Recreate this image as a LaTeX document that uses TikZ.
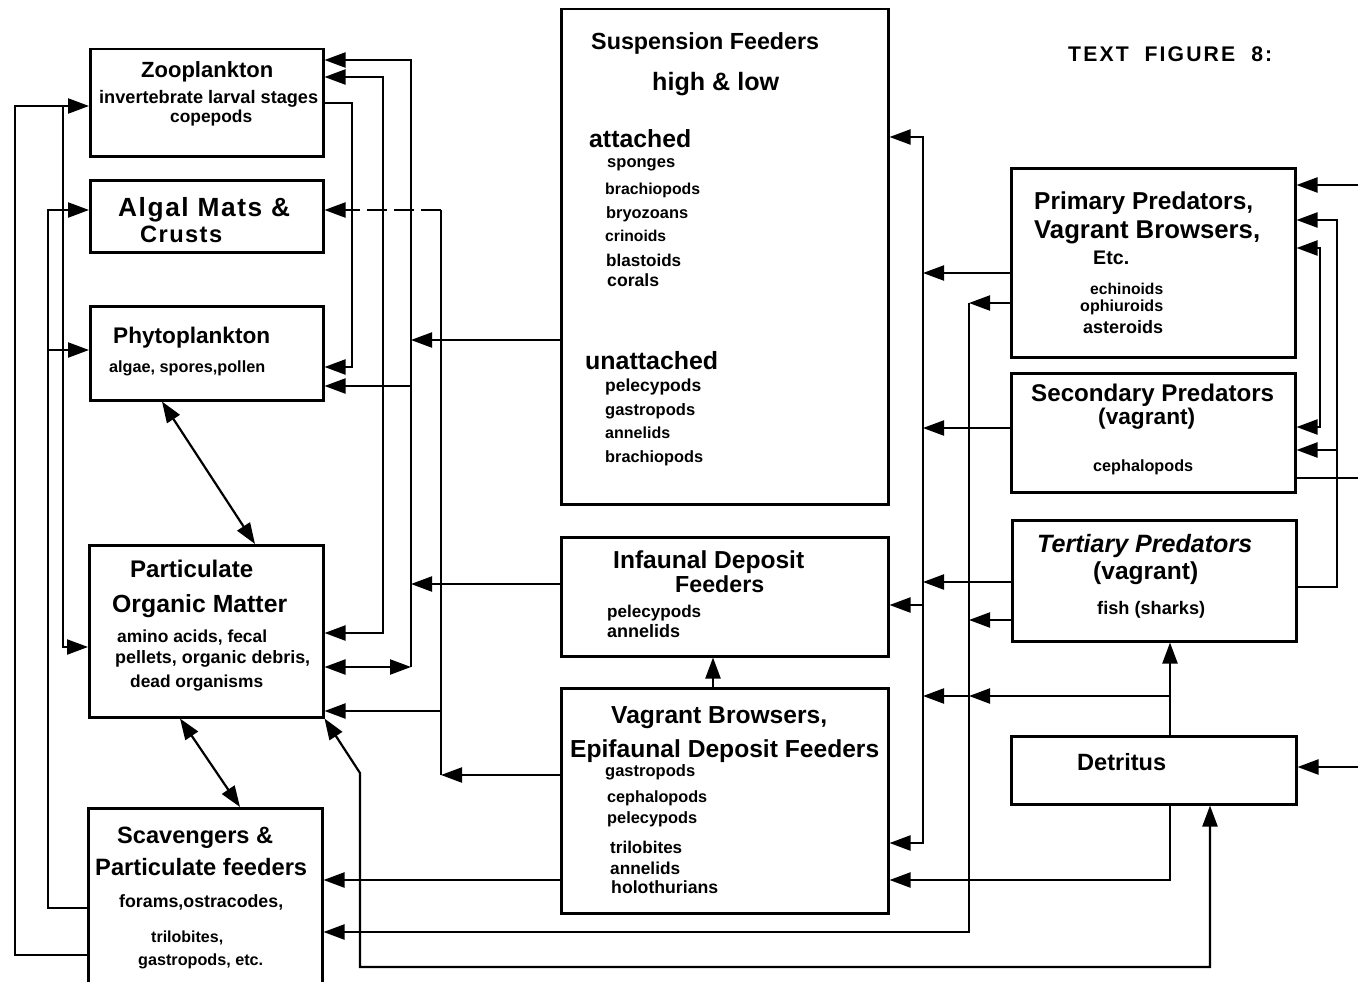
\documentclass[tikz,border=0pt]{standalone}
\usepackage{fontspec}
\setmainfont{Liberation Sans}
\usepackage{graphicx}
\usetikzlibrary{arrows.meta}
\newcommand\tl[5]{\node[txt] (#1) at (#2,#3) {\resizebox{#4pt}{!}{#5}};}
\tikzset{
  box/.style={draw, line width=2.5pt, rectangle, inner sep=0pt, anchor=north west},
  con/.style={line width=2.2pt},
  tip/.tip={Triangle[length=21pt,width=15pt]},
  arr/.style={con, -tip},
  darr/.style={con, tip-tip},
  txt/.style={inner sep=0pt, anchor=base west, font=\bfseries},
}
\begin{document}
\begin{tikzpicture}[x=1pt,y=-1pt]
\useasboundingbox (0,0) rectangle (1358,982);
\clip (0,0) rectangle (1358,982);
% ---------- boxes ----------
\node[box, minimum width=233pt, minimum height=107pt] (zoo) at (89,48) {};
\node[box, minimum width=233pt, minimum height=72pt] (alg) at (89,179) {};
\node[box, minimum width=233pt, minimum height=94pt] (phy) at (89,305) {};
\node[box, minimum width=234pt, minimum height=172pt] (pom) at (88,544) {};
\node[box, minimum width=234pt, minimum height=185pt] (scav) at (87,807) {};
\node[box, minimum width=327pt, minimum height=495pt] (susp) at (560,8) {};
\node[box, minimum width=327pt, minimum height=119pt] (inf) at (560,536) {};
\node[box, minimum width=327pt, minimum height=225pt] (vag) at (560,687) {};
\node[box, minimum width=284pt, minimum height=189pt] (pri) at (1010,167) {};
\node[box, minimum width=284pt, minimum height=119pt] (sec) at (1010,372) {};
\node[box, minimum width=284pt, minimum height=121pt] (ter) at (1011,519) {};
\node[box, minimum width=285pt, minimum height=68pt] (det) at (1010,735) {};
% ---------- texts ----------
\tl{tf}{1068}{62}{204}{\addfontfeature{LetterSpace=10}TEXT\ \ FIGURE\ \ 8:}
\tl{zt1}{141}{78}{132}{Zooplankton}
\tl{zt2}{99}{103}{219}{invertebrate larval stages}
\tl{zt3}{170}{122}{82}{copepods}
\tl{at1}{118}{216}{172}{\addfontfeature{LetterSpace=6}Algal\ Mats\ \&}
\tl{at2}{140}{242}{82}{\addfontfeature{LetterSpace=6}Crusts}
\tl{pt1}{113}{343}{157}{Phytoplankton}
\tl{pt2}{109}{372}{156}{algae, spores,pollen}
\tl{pm1}{130}{577}{123}{Particulate}
\tl{pm2}{112}{612}{175}{Organic Matter}
\tl{pm3}{117}{642}{150}{amino acids, fecal}
\tl{pm4}{115}{663}{195}{pellets, organic debris,}
\tl{pm5}{130}{687}{133}{dead organisms}
\tl{sc1}{117}{843}{156}{Scavengers \&}
\tl{sc2}{95}{875}{212}{Particulate feeders}
\tl{sc3}{119}{907}{164}{forams,ostracodes,}
\tl{sc4}{151}{942}{72}{trilobites,}
\tl{sc5}{138}{965}{125}{gastropods, etc.}
\tl{su1}{591}{49}{228}{Suspension Feeders}
\tl{su2}{652}{90}{127}{high \& low}
\tl{su3}{589}{147}{102}{attached}
\tl{su4}{607}{167}{68}{sponges}
\tl{su5}{605}{194}{95}{brachiopods}
\tl{su6}{606}{218}{82}{bryozoans}
\tl{su7}{605}{241}{61}{crinoids}
\tl{su8}{606}{266}{75}{blastoids}
\tl{su9}{607}{286}{52}{corals}
\tl{su10}{585}{369}{133}{unattached}
\tl{su11}{605}{391}{96}{pelecypods}
\tl{su12}{605}{415}{90}{gastropods}
\tl{su13}{605}{438}{65}{annelids}
\tl{su14}{605}{462}{98}{brachiopods}
\tl{in1}{613}{568}{191}{Infaunal Deposit}
\tl{in2}{675}{592}{89}{Feeders}
\tl{in3}{607}{617}{94}{pelecypods}
\tl{in4}{607}{637}{73}{annelids}
\tl{vg1}{611}{723}{216}{Vagrant Browsers,}
\tl{vg2}{570}{757}{309}{Epifaunal Deposit Feeders}
\tl{vg3}{605}{776}{90}{gastropods}
\tl{vg4}{607}{802}{100}{cephalopods}
\tl{vg5}{607}{823}{90}{pelecypods}
\tl{vg6}{610}{853}{72}{trilobites}
\tl{vg7}{610}{874}{70}{annelids}
\tl{vg8}{611}{893}{107}{holothurians}
\tl{pr1}{1034}{209}{219}{Primary Predators,}
\tl{pr2}{1034}{238}{226}{Vagrant Browsers,}
\tl{pr3}{1093}{264}{36}{Etc.}
\tl{pr4}{1090}{294}{73}{echinoids}
\tl{pr5}{1080}{311}{83}{ophiuroids}
\tl{pr6}{1083}{333}{80}{asteroids}
\tl{se1}{1031}{401}{243}{Secondary Predators}
\tl{se2}{1098}{424}{97}{(vagrant)}
\tl{se3}{1093}{471}{100}{cephalopods}
\tl{te1}{1037}{552}{215}{\itshape Tertiary Predators}
\tl{te2}{1093}{579}{105}{(vagrant)}
\tl{te3}{1097}{614}{108}{fish (sharks)}
\tl{de1}{1077}{770}{89}{Detritus}
% ---------- junction coordinates ----------
\coordinate (l15t) at (15,106);  \coordinate (l15b) at (15,955);
\coordinate (l63t) at (63,106);  \coordinate (l63b) at (63,647);
\coordinate (l48t) at (48,210);  \coordinate (l48m) at (48,350); \coordinate (l48b) at (48,908);
\coordinate (c352t) at (352,103); \coordinate (c352b) at (352,367);
\coordinate (c383t) at (383,77);  \coordinate (c383b) at (383,633);
\coordinate (c411t) at (411,60);  \coordinate (c411s) at (411,340); \coordinate (c411p) at (411,386);
\coordinate (c411i) at (411,584); \coordinate (c411b) at (411,667);
\coordinate (c441t) at (441,210); \coordinate (c441p) at (441,711); \coordinate (c441b) at (441,775);
\coordinate (c360a) at (360,773); \coordinate (c360b) at (360,967); \coordinate (c1210) at (1210,967);
\coordinate (c969t) at (969,303); \coordinate (c969r) at (969,620); \coordinate (c969d) at (969,696); \coordinate (c969b) at (969,932);
\coordinate (c923t) at (923,137); \coordinate (c923p) at (923,273); \coordinate (c923s) at (923,428);
\coordinate (c923r) at (923,582); \coordinate (c923i) at (923,605); \coordinate (c923d) at (923,696); \coordinate (c923b) at (923,843);
\coordinate (c1170d) at (1170,696); \coordinate (c1170b) at (1170,880);
\coordinate (c1337t) at (1337,220); \coordinate (c1337s) at (1337,450); \coordinate (c1337b) at (1337,587);
\coordinate (c1320t) at (1320,248); \coordinate (c1320b) at (1320,427);
\coordinate (r185) at (1360,185); \coordinate (r478) at (1360,478); \coordinate (r767) at (1360,767);
\coordinate (c713) at (713,670);
% ---------- left loops ----------
\draw[arr] (scav.west |- l15b) -- (l15b) -- (l15t) -- (zoo.west |- l15t);
\draw[arr] (l63t) -- (l63b) -- (pom.west |- l63b);
\draw[arr] (scav.west |- l48b) -- (l48b) -- (l48t) -- (alg.west |- l48t);
\draw[arr] (l48m) -- (phy.west |- l48m);
% ---------- double diagonals ----------
\draw[darr] ([xshift=73pt]phy.south west) -- ([xshift=167pt]pom.north west);
\draw[darr] ([xshift=92pt]pom.south west) -- ([xshift=153pt]scav.north west);
% ---------- between left column and centre ----------
\draw[arr] (zoo.east |- c352t) -- (c352t) -- (c352b) -- (phy.east |- c352b);
\draw[darr] (zoo.east |- c383t) -- (c383t) -- (c383b) -- (pom.east |- c383b);
\draw[arr] (c411b) -- (c411t) -- (zoo.east |- c411t);
\draw[darr] (pom.east |- c411b) -- (c411b);
\draw[arr] (c411p) -- (phy.east |- c411p);
\draw[arr] (susp.west |- c411s) -- (c411s);
\draw[arr] (inf.west |- c411i) -- (c411i);
\draw[arr] (vag.west |- c441b) -- (c441b);
\draw[con] (c441b) -- (c441t);
\draw[arr, dash pattern=on 20pt off 7pt] (c441t) -- (alg.east |- c441t);
\draw[arr] (c441p) -- (pom.east |- c441p);
\draw[arr] (vag.west |- c1170b) -- (scav.east |- c1170b);
\draw[darr] (pom.south east) -- (c360a) -- (c360b) -- (c1210) -- (det.south -| c1210);
% ---------- right centre trunks ----------
\draw[arr] (pri.west |- c969t) -- (c969t);
\draw[arr] (c969t) -- (c969b) -- (scav.east |- c969b);
\draw[arr] (ter.west |- c969r) -- (c969r);
\draw[arr] (c923i) -- (c923t) -- (susp.east |- c923t);
\draw[arr] (c923i) -- (inf.east |- c923i);
\draw[arr] (c923i) -- (c923b) -- (vag.east |- c923b);
\draw[arr] (pri.west |- c923p) -- (c923p);
\draw[arr] (sec.west |- c923s) -- (c923s);
\draw[arr] (ter.west |- c923r) -- (c923r);
\draw[arr] (det.north -| c1170d) -- (ter.south -| c1170d);
\draw[arr] (c1170d) -- (c969d);
\draw[arr] (c969d) -- (c923d);
\draw[arr] (det.south -| c1170b) -- (c1170b) -- (vag.east |- c1170b);
\draw[arr] (vag.north -| c713) -- (inf.south -| c713);
% ---------- right edge ----------
\draw[arr] (r185) -- (pri.east |- r185);
\draw[arr] (ter.east |- c1337b) -- (c1337b) -- (c1337t) -- (pri.east |- c1337t);
\draw[arr] (c1337s) -- (sec.east |- c1337s);
\draw[darr] (pri.east |- c1320t) -- (c1320t) -- (c1320b) -- (sec.east |- c1320b);
\draw[con] (sec.east |- r478) -- (r478);
\draw[arr] (r767) -- (det.east |- r767);
\end{tikzpicture}
\end{document}
